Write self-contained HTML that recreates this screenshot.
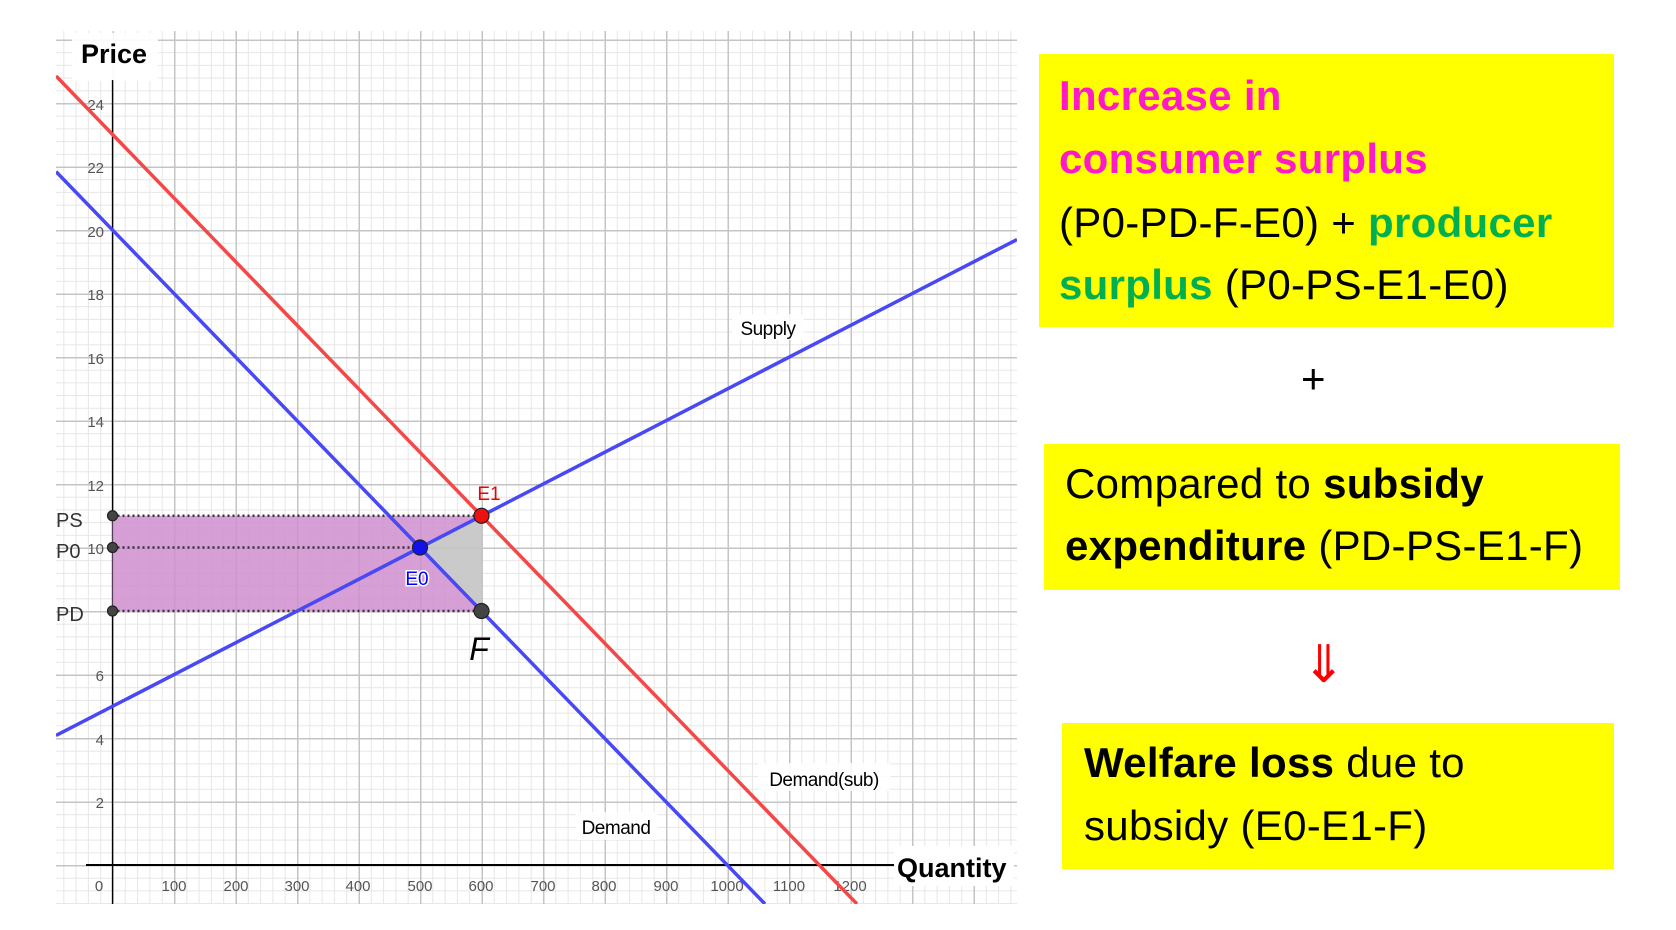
<!DOCTYPE html>
<html><head><meta charset="utf-8"><style>
body{margin:0;width:1676px;height:930px;background:#fff;overflow:hidden;position:relative;font-family:"Liberation Sans",sans-serif}
.box{position:absolute;background:#ffff00}
.t{position:absolute;font-size:42px;white-space:nowrap;color:#000;letter-spacing:0.3px}
.b{font-weight:bold}
</style></head><body>
<svg width="1676" height="930" style="position:absolute;left:0;top:0" xmlns="http://www.w3.org/2000/svg">
<defs>
<clipPath id="c"><rect x="56" y="31" width="961" height="873"/></clipPath>
<pattern id="mi" patternUnits="userSpaceOnUse" x="112.5" y="865" width="12.3" height="12.7">
<path d="M0.5 0V12.7M0 0.5H12.3" stroke="#e6e6e6" stroke-width="1" fill="none"/>
</pattern>
<pattern id="ma" patternUnits="userSpaceOnUse" x="112.5" y="865" width="61.5" height="63.5">
<path d="M0.75 0V63.5M0 0.75H61.5" stroke="#c4c4c4" stroke-width="1.5" fill="none"/>
</pattern>
</defs>
<rect x="56" y="31" width="961" height="873" fill="url(#mi)"/>
<rect x="56" y="31" width="961" height="873" fill="url(#ma)"/>
<rect x="72" y="33" width="86" height="48" fill="#fff" opacity="0.9"/>
<text x="81" y="63" font-size="27" font-weight="bold" font-family="Liberation Sans">Price</text>
<line x1="112.5" y1="80" x2="112.5" y2="904" stroke="#000" stroke-width="1.3"/>
<line x1="86" y1="865" x2="894" y2="865" stroke="#000" stroke-width="2"/>
<rect x="894" y="846" width="120" height="40" fill="#fff"/>
<text x="897" y="877" font-size="27" font-weight="bold" font-family="Liberation Sans">Quantity</text>
<g font-size="15" fill="#555" font-family="Liberation Sans" text-anchor="end">
<text x="104" y="110">24</text><text x="104" y="173">22</text><text x="104" y="237">20</text><text x="104" y="300">18</text><text x="104" y="364">16</text><text x="104" y="427">14</text><text x="104" y="491">12</text><text x="104" y="554">10</text><text x="104" y="681">6</text><text x="104" y="745">4</text><text x="104" y="808">2</text>
</g>
<g font-size="15" fill="#555" font-family="Liberation Sans" text-anchor="middle">
<text x="99" y="891">0</text><text x="174" y="891">100</text><text x="236" y="891">200</text><text x="297" y="891">300</text><text x="358" y="891">400</text><text x="420" y="891">500</text><text x="481" y="891">600</text><text x="543" y="891">700</text><text x="604" y="891">800</text><text x="666" y="891">900</text><text x="727" y="891">1000</text><text x="789" y="891">1100</text><text x="850" y="891">1200</text>
</g>
<polygon points="112.5,515.75 481.5,515.75 420,547.5 481.5,611 112.5,611" fill="#cf8fcf" opacity="0.85"/>
<polygon points="420,547.5 481.5,515.75 481.5,611" fill="#c4c4c4" opacity="0.9"/>
<g stroke="#333" stroke-width="2.5" stroke-dasharray="2,3">
<line x1="112.5" y1="515.75" x2="481.5" y2="515.75"/><line x1="112.5" y1="547.5" x2="420" y2="547.5"/><line x1="112.5" y1="611" x2="481.5" y2="611"/>
</g>
<g clip-path="url(#c)" stroke-width="3.5" fill="none">
<line x1="56" y1="76" x2="857" y2="904" stroke="#f44848"/>
<line x1="56" y1="171.6" x2="765" y2="904" stroke="#4848f4"/>
<line x1="56" y1="735.5" x2="1017" y2="239.5" stroke="#4848f4"/>
</g>
<rect x="732" y="314" width="72" height="26" fill="#fff" opacity="0.85"/>
<text x="768" y="335" font-size="19" text-anchor="middle" font-family="Liberation Sans" letter-spacing="-0.5">Supply</text>
<rect x="758" y="763" width="132" height="28" fill="#fff" opacity="0.85"/>
<text x="824" y="786" font-size="19" text-anchor="middle" font-family="Liberation Sans" letter-spacing="-0.5">Demand(sub)</text>
<rect x="576" y="812" width="82" height="28" fill="#fff" opacity="0.85"/>
<text x="616" y="834" font-size="19" text-anchor="middle" font-family="Liberation Sans" letter-spacing="-0.5">Demand</text>
<text x="489" y="500" font-size="19" fill="#e00" text-anchor="middle" font-family="Liberation Sans">E1</text>
<text x="417" y="585" font-size="19" fill="#00f" text-anchor="middle" font-family="Liberation Sans" stroke="#fff" stroke-width="3" paint-order="stroke">E0</text>
<text x="479" y="660" font-size="32" font-style="italic" text-anchor="middle" font-family="Liberation Sans">F</text>
<g font-size="20" fill="#333" font-family="Liberation Sans">
<text x="56" y="527">PS</text><text x="56" y="558">P0</text><text x="56" y="621">PD</text>
</g>
<g stroke="#222" stroke-width="1.2">
<circle cx="112.5" cy="515.75" r="5" fill="#444"/><circle cx="112.5" cy="547.5" r="5" fill="#444"/><circle cx="112.5" cy="611" r="5" fill="#444"/>
<circle cx="481.5" cy="515.75" r="7.5" fill="#ee1111"/><circle cx="420" cy="547.5" r="7.5" fill="#1111ee"/><circle cx="481.5" cy="611" r="7.5" fill="#444"/>
</g>
</svg>
<div class="box" style="left:1039px;top:54px;width:575px;height:273px"></div>
<div class="box" style="left:1044px;top:444px;width:576px;height:146px"></div>
<div class="box" style="left:1062px;top:723px;width:552px;height:146px"></div>
<div class="t b" style="left:1059px;top:72px;color:#ff19c8">Increase in</div>
<div class="t b" style="left:1059px;top:135px;color:#ff19c8">consumer surplus</div>
<div class="t" style="left:1059px;top:199px">(P0-PD-F-E0) + <span class="b" style="color:#00b050">producer</span></div>
<div class="t" style="left:1059px;top:261px"><span class="b" style="color:#00b050">surplus</span> (P0-PS-E1-E0)</div>
<div class="t" style="left:1301px;top:355px">+</div>
<div class="t" style="left:1065px;top:460px">Compared to <span class="b">subsidy</span></div>
<div class="t" style="left:1065px;top:522px"><span class="b">expenditure</span> (PD-PS-E1-F)</div>
<div class="t" style="left:1302px;top:635px;color:#ff0000;font-size:52px;font-family:'DejaVu Sans',sans-serif">⇓</div>
<div class="t" style="left:1084px;top:739px"><span class="b">Welfare loss</span> due to</div>
<div class="t" style="left:1084px;top:802px">subsidy (E0-E1-F)</div>
</body></html>
